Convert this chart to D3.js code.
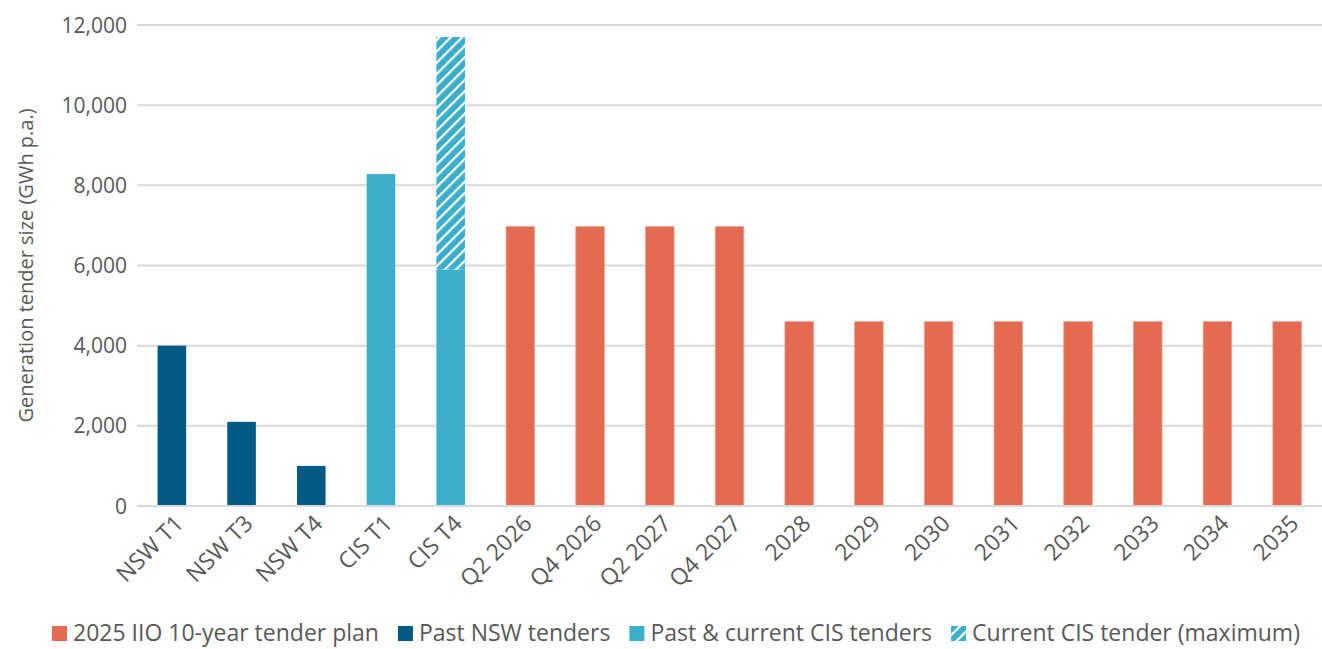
<!DOCTYPE html>
<html>
<head>
<meta charset="utf-8">
<script src="https://cdn.jsdelivr.net/npm/d3@7"></script>
<style>
  html, body { margin: 0; padding: 0; background: #fff; }
  svg { display: block; font-family: "Open Sans", Lato, "Noto Sans", sans-serif; }
</style>
</head>
<body>
<svg id="chart" width="1322" height="649"></svg>
<script>
// Tender sizes, GWh per annum
const categories = ["NSW T1", "NSW T3", "NSW T4", "CIS T1", "CIS T4",
  "Q2 2026", "Q4 2026", "Q2 2027", "Q4 2027",
  "2028", "2029", "2030", "2031", "2032", "2033", "2034", "2035"];
const groups = ["nsw", "nsw", "nsw", "cis", "cis",
  "plan", "plan", "plan", "plan",
  "plan", "plan", "plan", "plan", "plan", "plan", "plan", "plan"];
const baseValues = [4000, 2100, 1000, 8280, 5900,
  6970, 6970, 6970, 6970,
  4600, 4600, 4600, 4600, 4600, 4600, 4600, 4600];
// Extra volume up to the current tender's maximum (stacked on top, hatched)
const maxExtra = [0, 0, 0, 0, 5800, 0, 0, 0, 0, 0, 0, 0, 0, 0, 0, 0, 0];
const yTicks = [0, 2000, 4000, 6000, 8000, 10000, 12000];
const legendLabels = ["2025 IIO 10-year tender plan", "Past NSW tenders",
  "Past & current CIS tenders", "Current CIS tender (maximum)"];
const legendKeys = ["plan", "nsw", "cis", "hatch"];

const colors = { plan: "#E46A52", nsw: "#015A84", cis: "#3AAECB" };
const textColor = "#595959";

const svg = d3.select("#chart");
const margin = { left: 137, right: 0, top: 25, bottom: 143 };
const W = 1322, H = 649;

const x = d3.scaleBand()
  .domain(categories)
  .range([margin.left, W - margin.right])
  .paddingInner(0.59)
  .paddingOuter(0.295);

const y = d3.scaleLinear()
  .domain([0, 12000])
  .range([H - margin.bottom, margin.top]);

// Hatch pattern for the maximum tender size
const defs = svg.append("defs");
const pat = defs.append("pattern")
  .attr("id", "hatch")
  .attr("patternUnits", "userSpaceOnUse")
  .attr("width", 8).attr("height", 8)
  .attr("patternTransform", "rotate(45)");
pat.append("rect").attr("width", 8).attr("height", 8).attr("fill", colors.cis);
pat.append("rect").attr("x", 0).attr("y", 0).attr("width", 2.2).attr("height", 8).attr("fill", "#fff");

// Gridlines
svg.append("g")
  .selectAll("line")
  .data(yTicks)
  .join("line")
  .attr("x1", margin.left).attr("x2", W)
  .attr("y1", d => y(d)).attr("y2", d => y(d))
  .attr("stroke", "#D9D9D9")
  .attr("stroke-width", 2);

// Y tick labels
svg.append("g")
  .selectAll("text")
  .data(yTicks)
  .join("text")
  .attr("x", 127)
  .attr("y", d => y(d))
  .attr("dy", "0.36em")
  .attr("text-anchor", "end")
  .attr("font-size", 21)
  .attr("fill", textColor)
  .text(d => d3.format(",")(d));

// Y axis title
svg.append("text")
  .attr("transform", `translate(33, ${(y(0) + y(12000)) / 2}) rotate(-90)`)
  .attr("text-anchor", "middle")
  .attr("font-size", 20)
  .attr("fill", textColor)
  .text("Generation tender size (GWh p.a.)");

// Bars
svg.append("g")
  .selectAll("rect")
  .data(categories)
  .join("rect")
  .attr("x", d => x(d))
  .attr("width", x.bandwidth())
  .attr("y", (d, i) => y(baseValues[i]))
  .attr("height", (d, i) => y(0) - y(baseValues[i]))
  .attr("fill", (d, i) => colors[groups[i]])
  .attr("stroke", (d, i) => groups[i] === "plan" ? "#F0A08F" : "none")
  .attr("stroke-width", 0.8);

// Hatched top segment
svg.append("g")
  .selectAll("rect")
  .data(categories.filter((d, i) => maxExtra[i] > 0))
  .join("rect")
  .attr("x", d => x(d))
  .attr("width", x.bandwidth())
  .attr("y", d => {
    const i = categories.indexOf(d);
    return y(baseValues[i] + maxExtra[i]);
  })
  .attr("height", d => {
    const i = categories.indexOf(d);
    return y(baseValues[i]) - y(baseValues[i] + maxExtra[i]);
  })
  .attr("fill", "url(#hatch)");

// Baseline
svg.append("line")
  .attr("x1", margin.left).attr("x2", W)
  .attr("y1", y(0)).attr("y2", y(0))
  .attr("stroke", "#D9D9D9").attr("stroke-width", 2);

// X labels (rotated)
svg.append("g")
  .selectAll("text")
  .data(categories)
  .join("text")
  .attr("transform", d => `translate(${x(d) + x.bandwidth() / 2 + 7}, ${y(0) + 13}) rotate(-45)`)
  .attr("text-anchor", "end")
  .attr("dy", "0.36em")
  .attr("font-size", 23)
  .attr("fill", textColor)
  .text(d => d);

// Legend
const legend = svg.append("g");
const legendBase = 641;
const sw = 15, gapText = 6, gapItem = 19;
const items = legend.selectAll("g")
  .data(legendLabels)
  .join("g");
items.append("text")
  .attr("x", sw + gapText)
  .attr("y", legendBase)
  .attr("font-size", 23)
  .attr("fill", textColor)
  .text(d => d);
items.append("rect")
  .attr("x", 0)
  .attr("y", legendBase - 15)
  .attr("width", sw).attr("height", sw)
  .attr("fill", (d, i) => legendKeys[i] === "hatch" ? "url(#hatch)" : colors[legendKeys[i]]);

const widths = [];
items.each(function () {
  widths.push(sw + gapText + d3.select(this).select("text").node().getComputedTextLength());
});
const totalW = d3.sum(widths) + gapItem * (widths.length - 1);
let cx = Math.min(52, W - 4 - totalW);
items.attr("transform", (d, i) => {
  const t = `translate(${cx}, 0)`;
  cx += widths[i] + gapItem;
  return t;
});
</script>
</body>
</html>
